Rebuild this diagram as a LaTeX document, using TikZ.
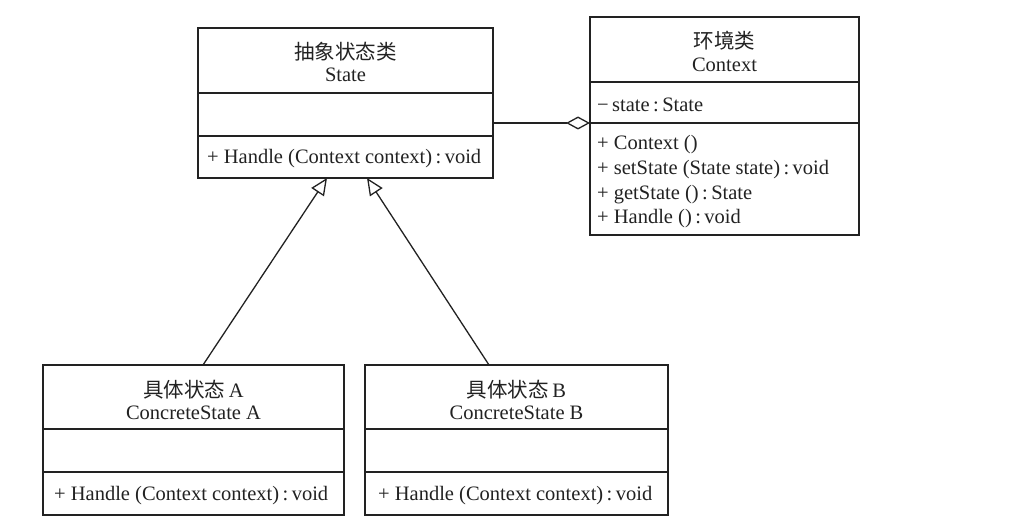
\documentclass[tikz,border=0pt]{standalone}
\usepackage{fontspec}
\setmainfont{Liberation Serif}
\newfontfamily\cjk{Noto Sans CJK SC}
\usetikzlibrary{arrows.meta}
\definecolor{ink}{HTML}{222222}
\begin{document}
\begin{tikzpicture}[x=1pt,y=-1pt,
  umlbox/.style={draw=ink,line width=1.3pt,rectangle,inner sep=0pt,fill=white},
  sep/.style={draw=ink,line width=1.3pt},
  ctext/.style={anchor=base,inner sep=0pt,text=ink,font=\fontsize{20.5}{24}\selectfont},
  ltext/.style={anchor=base west,inner sep=0pt,text=ink,font=\fontsize{20.5}{24}\selectfont},
  zh/.style={anchor=base,inner sep=0pt,text=ink,font=\fontsize{20.5}{24}\selectfont\cjk},
  inherit/.style={draw=ink,line width=1.3pt,-{Triangle[open,length=17pt,width=15pt,line width=1.3pt]}},
  aggr/.style={draw=ink,line width=1.3pt,-{Diamond[open,length=24pt,width=13pt,line width=1.3pt]}}
]
\useasboundingbox[fill=white] (0,0) rectangle (1035,529);

% State
\node[umlbox,minimum width=295pt,minimum height=150pt] (state) at (345.5,103) {};
\draw[sep] (198,93) -- (493,93);
\draw[sep] (198,136) -- (493,136);
\node[zh] (stateZh) at (345.5,60) {抽象状态类};
\node[ctext] (stateEn) at (345.5,82) {State};
\node[ltext] (stateM) at (207,164) {+ Handle (Context context)\,:\,void};

% Context
\node[umlbox,minimum width=269pt,minimum height=218pt] (ctx) at (724.5,126) {};
\draw[sep] (590,82) -- (859,82);
\draw[sep] (590,123) -- (859,123);
\node[zh] (ctxZh) at (724.5,49) {环境类};
\node[ctext] (ctxEn) at (724.5,72) {Context};
\node[ltext] (ctxA) at (597,112) {−\,state\,:\,State};
\node[ltext] (ctxM1) at (597,150) {+ Context ()};
\node[ltext] (ctxM2) at (597,175) {+ setState (State state)\,:\,void};
\node[ltext] (ctxM3) at (597,200) {+ getState ()\,:\,State};
\node[ltext] (ctxM4) at (597,224) {+ Handle ()\,:\,void};

% ConcreteState A
\node[umlbox,minimum width=301pt,minimum height=150pt] (csa) at (193.5,440) {};
\draw[sep] (43,429) -- (344,429);
\draw[sep] (43,472) -- (344,472);
\node[zh] (csaZh) at (193.5,397) {具体状态\,\rmfamily A};
\node[ctext] (csaEn) at (193.5,419) {ConcreteState A};
\node[ltext] (csaM) at (54,500) {+ Handle (Context context)\,:\,void};

% ConcreteState B
\node[umlbox,minimum width=303pt,minimum height=150pt] (csb) at (516.5,440) {};
\draw[sep] (365,429) -- (668,429);
\draw[sep] (365,472) -- (668,472);
\node[zh] (csbZh) at (516.5,397) {具体状态\,\rmfamily B};
\node[ctext] (csbEn) at (516.5,419) {ConcreteState B};
\node[ltext] (csbM) at (378,500) {+ Handle (Context context)\,:\,void};

% connector end points
\coordinate (aTop) at (203,365);
\coordinate (bTop) at (489,365);
\coordinate (sA) at (327,178);
\coordinate (sB) at (367,178);
\coordinate (sR) at (493,123);
\coordinate (cL) at (590,123);

\draw[inherit] (aTop) -- (sA);
\draw[inherit] (bTop) -- (sB);
\draw[aggr] (sR) -- (cL);
\end{tikzpicture}
\end{document}
